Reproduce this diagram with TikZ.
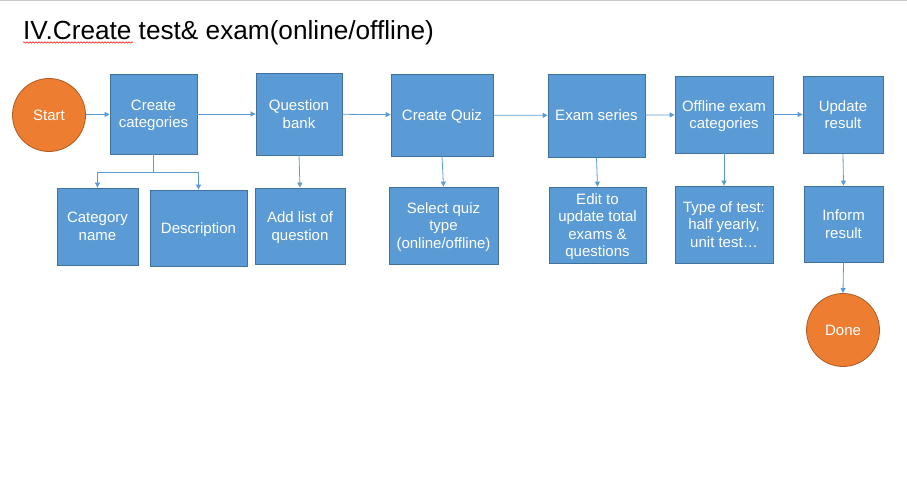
\documentclass[tikz,border=0pt]{standalone}
\usepackage{fontspec}
\setmainfont{Liberation Sans}
\usetikzlibrary{arrows.meta,decorations.pathmorphing}
\definecolor{boxblue}{HTML}{5B9BD5}
\definecolor{boxedge}{HTML}{41719C}
\definecolor{startorange}{HTML}{ED7D31}
\definecolor{orangeedge}{HTML}{AE5A21}
\tikzset{
  stepbox/.style={draw=boxedge, fill=boxblue, text=white, align=center,
    font=\fontsize{15}{17.5}\selectfont, text depth=0pt, line width=0.8pt, inner sep=0pt},
  endcircle/.style={circle, draw=orangeedge, fill=startorange, text=white,
    font=\fontsize{15}{17.5}\selectfont, minimum size=73pt, inner sep=0pt, line width=0.8pt},
  flow/.style={draw=boxblue, line width=0.8pt, -{Triangle[length=5pt,width=5pt]}}
}
\begin{document}
\begin{tikzpicture}[x=1pt,y=-1pt]
  %%%%% START %%%%%
  \useasboundingbox (0,0) rectangle (907,502);
  \draw[black!22, line width=1.2pt] (0,0.8) -- (907,0.8);

  \node[anchor=base west, inner sep=0pt, font=\fontsize{26.2}{30}\selectfont] (title) at (23,39.5) {IV.Create test\& exam(online/offline)};
  \draw[red, line width=0.5pt, decorate, decoration={snake, amplitude=0.7pt, segment length=3pt}] (23,42.5) -- (133,42.5);

  % top row
  \node[endcircle] (start) at (49,115) {Start};
  \node[stepbox, minimum width=87pt, minimum height=80pt] (cats) at (153.5,114) {Create\\categories};
  \node[stepbox, minimum width=86pt, minimum height=82pt] (qbank) at (299,114) {Question\\bank};
  \node[stepbox, minimum width=102pt, minimum height=82pt] (quiz) at (442,115) {Create Quiz};
  \node[stepbox, minimum width=97pt, minimum height=83pt] (series) at (596.5,115.5) {Exam series};
  \node[stepbox, minimum width=98pt, minimum height=77pt] (offline) at (724,114.5) {Offline exam\\categories};
  \node[stepbox, minimum width=80pt, minimum height=77pt] (update) at (843,114.5) {Update\\result};

  % bottom row
  \node[stepbox, minimum width=81pt, minimum height=77pt] (catname) at (97.5,226.5) {Category\\name};
  \node[stepbox, minimum width=97pt, minimum height=76pt] (desc) at (198.5,228) {Description};
  \node[stepbox, minimum width=90pt, minimum height=76pt] (addlist) at (300,226) {Add list of\\question};
  \node[stepbox, minimum width=109pt, minimum height=77pt] (qtype) at (443.5,225.5) {Select quiz\\type\\(online/offline)};
  \node[stepbox, minimum width=97pt, minimum height=76pt] (edit) at (597.5,225) {Edit to\\update total\\exams \&\\questions};
  \node[stepbox, minimum width=98pt, minimum height=77pt] (testtype) at (724,224.5) {Type of test:\\half yearly,\\unit test\dots};
  \node[stepbox, minimum width=79pt, minimum height=76pt] (inform) at (843.5,224) {Inform\\result};
  \node[endcircle] (done) at (843,330) {Done};

  % connectors
  \draw[flow] (start) -- (cats);
  \draw[flow] (cats) -- (qbank);
  \draw[flow] (qbank) -- (quiz);
  \draw[flow] (quiz) -- (series);
  \draw[flow] (series) -- (offline);
  \draw[flow] (offline) -- (update);

  \coordinate (split) at (153.5,172);
  \draw[draw=boxblue, line width=0.8pt] (cats.south) -- (split);
  \draw[flow] (split) -| (catname.north);
  \draw[flow] (split) -| (desc.north);
  \draw[flow] (qbank.south) -- (addlist.north);
  \draw[flow] (quiz.south) -- (qtype.north);
  \draw[flow] (series.south) -- (edit.north);
  \draw[flow] (offline.south) -- (testtype.north);
  \draw[flow] (update.south) -- (inform.north);
  \draw[flow] (inform.south) -- (done.north);
  %%%%% END %%%%%
\end{tikzpicture}
\end{document}
